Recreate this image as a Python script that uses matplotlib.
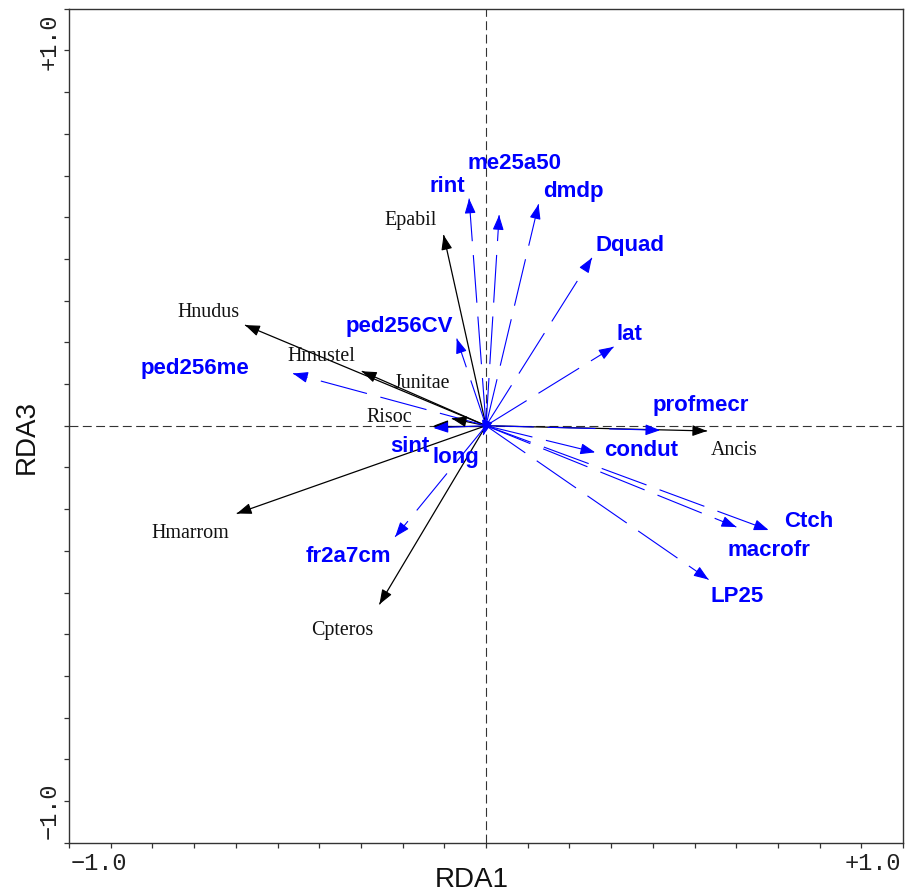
import numpy as np
import matplotlib
matplotlib.use("Agg")
import matplotlib.pyplot as plt

# ---- data: RDA biplot scores ----
env_names = ["rint", "me25a50", "dmdp", "Dquad", "ped256CV", "lat", "ped256me",
             "sint", "long", "condut", "profmecr", "fr2a7cm", "Ctch", "macrofr", "LP25"]
env_x = [-0.045, 0.035, 0.140, 0.282, -0.078, 0.340, -0.514,
         -0.140, -0.007, 0.291, 0.464, -0.242, 0.753, 0.667, 0.593]
env_y = [0.605, 0.561, 0.590, 0.447, 0.232, 0.210, 0.139,
         -0.006, -0.025, -0.071, -0.012, -0.296, -0.278, -0.270, -0.410]

spp_names = ["Epabil", "Hnudus", "Hmustel", "Junitae", "Risoc", "Hmarrom", "Cpteros", "Ancis"]
spp_x = [-0.113, -0.642, -0.331, -0.091, -0.140, -0.664, -0.284, 0.589]
spp_y = [0.508, 0.268, 0.145, 0.019, 0.000, -0.234, -0.476, -0.014]

# ---- label layout (centre x, baseline y, in axis units) ----
env_lab = {"rint": (-0.103, 0.623), "me25a50": (0.075, 0.685), "dmdp": (0.232, 0.610),
           "Dquad": (0.383, 0.466), "ped256CV": (-0.231, 0.249), "lat": (0.382, 0.228),
           "ped256me": (-0.775, 0.137), "sint": (-0.203, -0.070), "long": (-0.081, -0.100),
           "condut": (0.413, -0.081), "profmecr": (0.573, 0.039), "fr2a7cm": (-0.368, -0.363),
           "Ctch": (0.859, -0.270), "macrofr": (0.755, -0.348), "LP25": (0.669, -0.469)}
spp_lab = {"Epabil": (-0.202, 0.534), "Hnudus": (-0.740, 0.290), "Hmustel": (-0.439, 0.172),
           "Junitae": (-0.170, 0.100), "Risoc": (-0.257, 0.009), "Ancis": (0.661, -0.079),
           "Hmarrom": (-0.787, -0.300), "Cpteros": (-0.382, -0.558)}

LIM = 10 / 9
BLUE = "#0000ff"

fig = plt.figure(figsize=(9.05, 8.93), dpi=100)
ax = fig.add_axes([69 / 905, 50.3 / 893, 834 / 905, 834 / 893])
ax.set_xlim(-LIM, LIM)
ax.set_ylim(-LIM, LIM)

for s in ax.spines.values():
    s.set_linewidth(1.0)
    s.set_color("#333333")

ticks = np.arange(-10, 11) / 9
ax.set_xticks(ticks)
ax.set_yticks(ticks)
ax.set_xticklabels([])
ax.set_yticklabels([])
ax.tick_params(direction="out", length=3.3, width=0.9, color="#333333",
               top=False, right=False)

# centre dashed lines
ax.axhline(0, color="#333333", lw=0.8, dashes=(8, 4), zorder=1)
ax.axvline(0, color="#333333", lw=0.8, dashes=(8, 4), zorder=1)

def head(x, y, color):
    L = np.hypot(x, y)
    ux, uy = x / L, y / L
    back = 0.02
    ax.annotate("", xy=(x, y), xytext=(x - ux * back, y - uy * back),
                arrowprops=dict(arrowstyle="-|>,head_length=0.75,head_width=0.28",
                                mutation_scale=12, color=color, lw=0.8,
                                shrinkA=0, shrinkB=0), zorder=3)

# species: solid black arrows
for n, x, y in zip(spp_names, spp_x, spp_y):
    ax.plot([0, x], [0, y], color="black", lw=0.9, solid_capstyle="butt", zorder=2)
    head(x, y, "black")
    lx, ly = spp_lab[n]
    ax.text(lx, ly, n, ha="center", va="baseline", fontsize=14.4,
            family="Liberation Serif", color="#111111", zorder=4)

# environmental: dashed blue arrows
for n, x, y in zip(env_names, env_x, env_y):
    ax.plot([0, x], [0, y], color=BLUE, lw=0.8, dashes=(43, 12.5), zorder=2)
    head(x, y, BLUE)
    lx, ly = env_lab[n]
    ax.text(lx, ly, n, ha="center", va="baseline", fontsize=16, fontweight="bold",
            family="Liberation Sans", color=BLUE, zorder=4)

# tick labels
mono = dict(family="Liberation Mono", fontsize=17, color="#222222")
for xd, t in [(-1.032, "\u22121.0"), (1.030, "+1.0")]:
    ax.annotate(t, xy=(xd, 0), xycoords=("data", "axes fraction"),
                xytext=(0, -19.7), textcoords="offset points",
                ha="center", va="baseline", annotation_clip=False, **mono)
for yd, t in [(1.023, "+1.0"), (-1.025, "\u22121.0")]:
    ax.annotate(t, xy=(0, yd), xycoords=("axes fraction", "data"),
                xytext=(-9.7, 0), textcoords="offset points",
                ha="center", va="baseline", rotation=90, rotation_mode="anchor",
                annotation_clip=False, **mono)

# axis titles
ax.annotate("RDA1", xy=(-0.037, 0), xycoords=("data", "axes fraction"),
            xytext=(0, -31.7), textcoords="offset points", ha="center", va="baseline",
            family="Liberation Sans", fontsize=20, color="#111111", annotation_clip=False)
ax.annotate("RDA3", xy=(0, -0.029), xycoords=("axes fraction", "data"),
            xytext=(-25.7, 0), textcoords="offset points", ha="center", va="baseline",
            rotation=90, rotation_mode="anchor",
            family="Liberation Sans", fontsize=20, color="#111111", annotation_clip=False)

fig.savefig("out.png", dpi=100)
